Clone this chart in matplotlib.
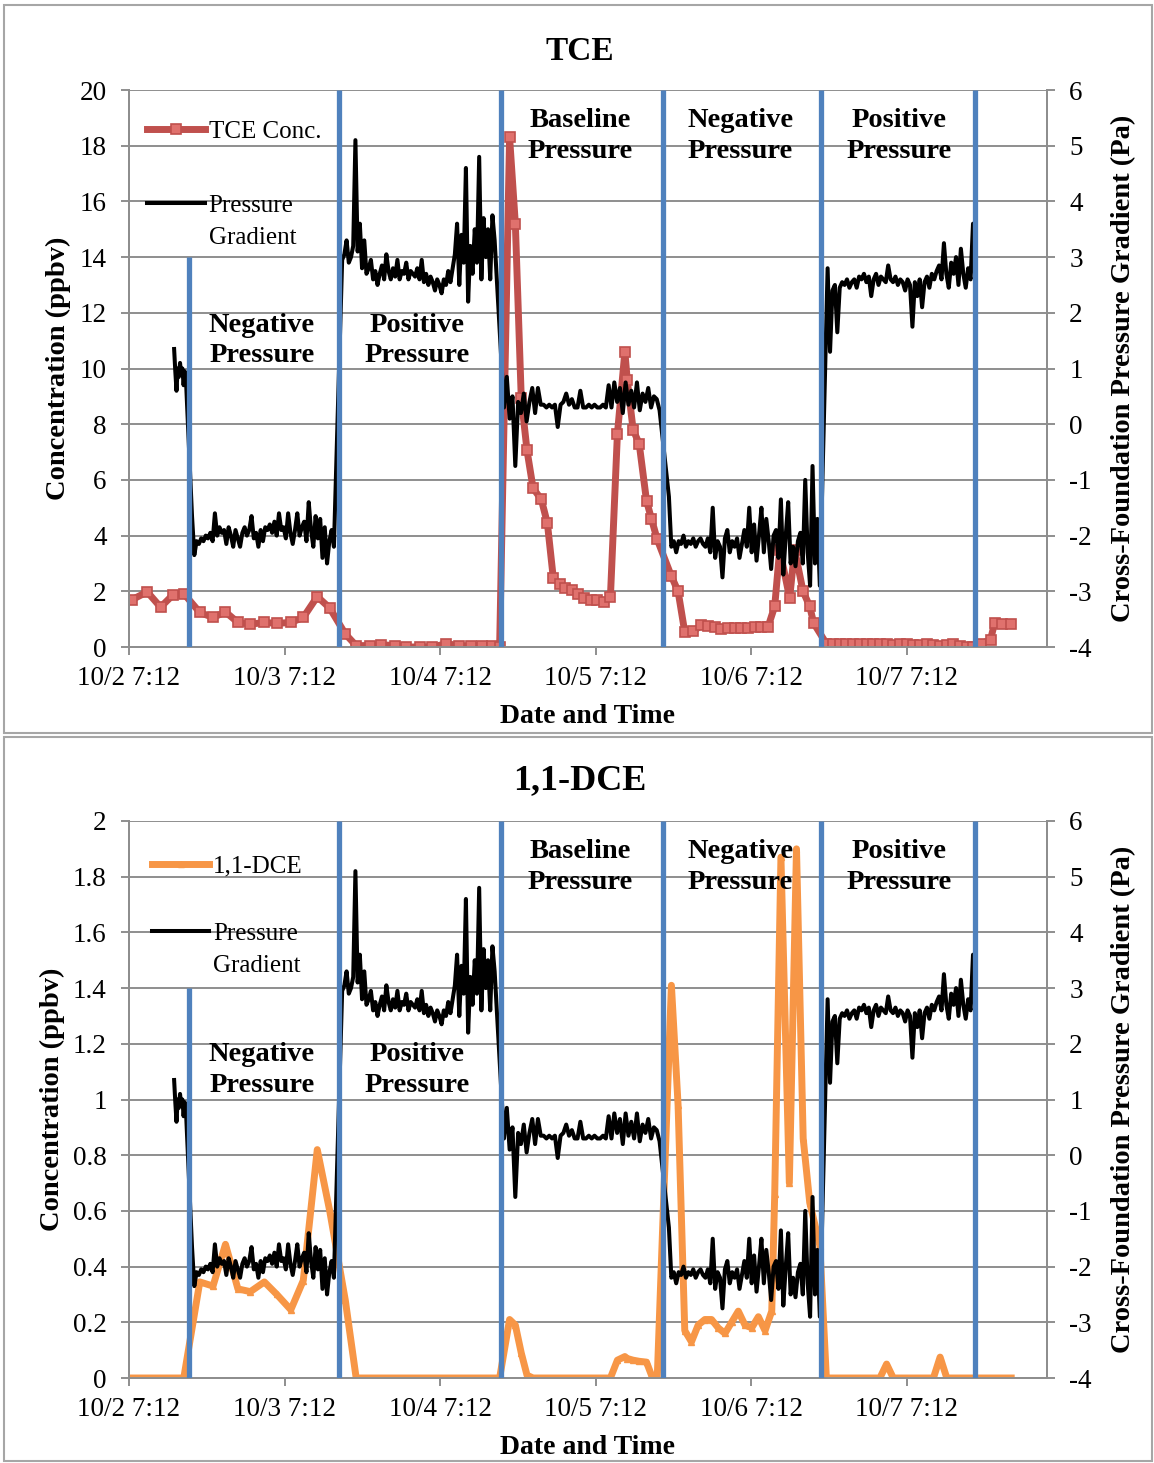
import numpy as np
import matplotlib
matplotlib.use("Agg")
import matplotlib.pyplot as plt
from matplotlib.patches import Rectangle

plt.rcParams["font.family"] = ["Liberation Serif", "DejaVu Serif"]
plt.rcParams["axes.unicode_minus"] = False

# x values are days after 10/2 7:12
tick_days = [0, 1, 2, 3, 4, 5]
tick_labels = ["10/2 7:12", "10/3 7:12", "10/4 7:12", "10/5 7:12", "10/6 7:12", "10/7 7:12"]

# boundaries between test periods
period_lines = [0.386, 1.35, 2.39, 3.43, 4.45, 5.44]

# TCE concentration (ppbv)
tce_days = [0.02, 0.117, 0.203, 0.284, 0.352, 0.455, 0.54, 0.62, 0.70, 0.78, 0.87, 0.95,
            1.04, 1.12, 1.21, 1.29, 1.39, 1.46, 1.55, 1.62, 1.71, 1.78, 1.87, 1.95,
            2.04, 2.12, 2.20, 2.27, 2.33, 2.382,
            2.446, 2.483, 2.521, 2.558, 2.597, 2.650, 2.689, 2.727, 2.768, 2.805, 2.848,
            2.886, 2.925, 2.968, 3.011, 3.054, 3.094, 3.139, 3.187, 3.202, 3.240, 3.279,
            3.326, 3.358, 3.395,
            3.486, 3.529, 3.572, 3.625, 3.679, 3.722, 3.764, 3.807, 3.850, 3.893, 3.936,
            3.979, 4.021, 4.064, 4.107, 4.150, 4.182, 4.246, 4.278, 4.332, 4.375, 4.400,
            4.482, 4.525, 4.568, 4.611, 4.654, 4.697, 4.740, 4.783, 4.826, 4.869, 4.912,
            4.955, 4.998, 5.041, 5.084, 5.127, 5.170, 5.213, 5.256, 5.299, 5.342, 5.385,
            5.424, 5.478, 5.537, 5.563, 5.612, 5.670]
tce_conc = [1.70, 1.98, 1.43, 1.88, 1.92, 1.24, 1.06, 1.26, 0.88, 0.82, 0.88, 0.85,
            0.88, 1.06, 1.81, 1.40, 0.47, 0.05, 0.05, 0.08, 0.05, 0.0, 0.0, 0.0,
            0.12, 0.05, 0.03, 0.05, 0.03, 0.0,
            18.3, 15.2, 8.95, 7.06, 5.7, 5.3, 4.44, 2.47, 2.28, 2.12, 2.04,
            1.91, 1.77, 1.70, 1.69, 1.63, 1.79, 7.65, 10.6, 9.6, 7.8, 7.3,
            5.25, 4.6, 3.86,
            2.54, 2.0, 0.53, 0.56, 0.78, 0.74, 0.72, 0.66, 0.68, 0.68, 0.68,
            0.68, 0.72, 0.72, 0.72, 1.46, 3.5, 1.76, 3.5, 2.0, 1.46, 0.86,
            0.12, 0.12, 0.1, 0.12, 0.1, 0.1, 0.12, 0.1, 0.1, 0.1, 0.08,
            0.1, 0.1, 0.08, 0.08, 0.1, 0.08, 0.05, 0.08, 0.1, 0.05, 0.0,
            0.0, 0.12, 0.26, 0.86, 0.83, 0.83]

# 1,1-DCE concentration (ppbv)
dce_days = [0.02, 0.117, 0.203, 0.284, 0.352, 0.455, 0.54, 0.62, 0.70, 0.78, 0.87, 0.95,
            1.04, 1.12, 1.21, 1.29, 1.39, 1.46, 1.55, 1.62, 1.71, 1.78, 1.87, 1.95,
            2.04, 2.12, 2.20, 2.27, 2.33, 2.382,
            2.446, 2.483, 2.521, 2.558, 2.597, 2.650, 2.689, 2.727, 2.768, 2.805, 2.848,
            2.886, 2.925, 2.968, 3.011, 3.054, 3.094, 3.139, 3.187, 3.202, 3.240, 3.279,
            3.326, 3.358, 3.395,
            3.486, 3.529, 3.572, 3.615, 3.658, 3.701, 3.744, 3.787, 3.830, 3.873, 3.916,
            3.959, 4.002, 4.045, 4.088, 4.131, 4.150, 4.190, 4.244, 4.290, 4.333, 4.375,
            4.440, 4.482, 4.525, 4.568, 4.611, 4.654, 4.697, 4.740, 4.783, 4.826, 4.869,
            4.912, 4.955, 4.998, 5.041, 5.084, 5.127, 5.170, 5.213, 5.256, 5.299, 5.342,
            5.385, 5.424, 5.478, 5.537, 5.563, 5.612, 5.670]
dce_conc = [0.0, 0.0, 0.0, 0.0, 0.0, 0.345, 0.33, 0.48, 0.32, 0.31, 0.345, 0.30,
            0.245, 0.35, 0.82, 0.60, 0.28, 0.0, 0.0, 0.0, 0.0, 0.0, 0.0, 0.0,
            0.0, 0.0, 0.0, 0.0, 0.0, 0.0,
            0.21, 0.19, 0.09, 0.01, 0.0, 0.0, 0.0, 0.0, 0.0, 0.0, 0.0,
            0.0, 0.0, 0.0, 0.0, 0.0, 0.0, 0.064, 0.077, 0.07, 0.064, 0.06,
            0.057, 0.01, 0.0,
            1.41, 0.98, 0.17, 0.13, 0.19, 0.21, 0.21, 0.18, 0.16, 0.20, 0.24,
            0.19, 0.18, 0.22, 0.17, 0.24, 0.66, 1.87, 0.70, 1.90, 0.86, 0.63,
            0.475, 0.0, 0.0, 0.0, 0.0, 0.0, 0.0, 0.0, 0.0, 0.0, 0.05,
            0.0, 0.0, 0.0, 0.0, 0.0, 0.0, 0.0, 0.075, 0.0, 0.0, 0.0,
            0.0, 0.0, 0.0, 0.0, 0.0, 0.0, 0.0]

# cross-foundation pressure gradient (Pa), logged in six stretches
p_spans = [(0.29, 0.366), (0.405, 1.317), (1.37, 2.35), (2.41, 3.41), (3.47, 4.44), (4.49, 5.44)]
p_seg1 = [1.35, 0.95, 0.6, 1.0, 0.85, 1.1, 0.9, 1.0, 0.7, 0.95, 0.8]
p_seg2 = [-1.65, -2.35, -2.1, -2.15, -2.05, -2.1, -2.0, -2.05, -1.95, -2.1, -1.6, -2.0,
          -1.85, -1.95, -1.9, -2.15, -1.85, -2.0, -2.2, -1.9, -2.05, -2.2, -1.95, -1.85,
          -2.0, -1.9, -1.65, -2.05, -1.95, -2.2, -1.9, -2.1, -1.85, -1.9, -1.8, -1.95,
          -1.75, -2.0, -1.6, -1.9, -1.85, -2.05, -1.6, -1.95, -2.15, -1.9, -1.6, -2.0,
          -1.85, -1.75, -2.1, -1.4, -1.9, -2.2, -1.65, -2.05, -1.7, -2.4, -1.85, -2.5,
          -2.1, -1.9, -2.2]
p_seg3 = [2.95, 3.05, 3.3, 2.9, 3.0, 3.2, 5.1, 3.1, 3.6, 2.8, 3.3, 2.7, 2.8, 2.95, 2.6,
          2.75, 2.5, 2.7, 2.85, 2.6, 3.05, 2.75, 2.6, 2.8, 2.65, 2.95, 2.6, 2.75, 2.7,
          2.9, 2.6, 2.75, 2.7, 2.65, 2.8, 2.6, 2.95, 2.55, 2.7, 2.5, 2.65, 2.55, 2.4,
          2.6, 2.5, 2.35, 2.6, 2.5, 2.75, 2.55, 2.8, 3.05, 3.6, 2.5, 3.4, 2.9, 4.6, 2.2,
          3.2, 2.7, 3.5, 2.9, 4.8, 2.6, 3.7, 3.0, 3.5, 2.6, 3.75, 3.3]
p_seg4 = [0.3, 0.85, 0.1, 0.5, -0.75, 0.4, 0.2, 0.55, 0.05, 0.4, 0.65, 0.2, 0.65, 0.35,
          0.35, 0.3, 0.35, 0.3, 0.35, -0.05, 0.35, 0.4, 0.55, 0.35, 0.45, 0.3, 0.3, 0.6,
          0.3, 0.3, 0.35, 0.3, 0.35, 0.3, 0.3, 0.35, 0.3, 0.7, 0.3, 0.75, 0.4, 0.65, 0.2,
          0.75, 0.35, 0.6, 0.3, 0.75, 0.25, 0.55, 0.4, 0.65, 0.3, 0.5, 0.45, 0.25]
p_seg5 = [-1.3, -2.2, -2.1, -2.3, -2.1, -2.15, -2.0, -2.2, -2.1, -2.15, -2.05, -2.2, -2.1,
          -2.05, -2.15, -2.2, -2.05, -2.3, -1.5, -2.4, -2.1, -2.2, -2.75, -2.05, -1.9,
          -2.3, -2.1, -2.2, -2.05, -2.4, -2.15, -1.9, -2.2, -1.5, -2.3, -1.8, -2.45, -2.0,
          -1.5, -2.3, -1.7, -2.1, -2.6, -2.0, -1.9, -2.4, -1.35, -2.7, -2.0, -1.4, -2.5,
          -2.2, -2.55, -2.1, -1.95, -2.5, -1.0, -2.3, -2.9, -0.75, -2.5, -1.7, -2.9]
p_seg6 = [2.8, 1.3, 2.4, 2.5, 1.65, 2.45, 2.55, 2.5, 2.6, 2.45, 2.55, 2.6, 2.45, 2.65,
          2.6, 2.7, 2.55, 2.65, 2.3, 2.6, 2.7, 2.5, 2.65, 2.6, 2.55, 2.85, 2.6, 2.55,
          2.65, 2.5, 2.6, 2.55, 2.4, 2.6, 2.5, 1.75, 2.55, 2.3, 2.6, 2.1, 2.55, 2.65,
          2.45, 2.7, 2.6, 2.75, 2.85, 2.6, 3.25, 2.7, 2.45, 2.9, 2.7, 3.0, 2.5, 3.15,
          2.7, 2.45, 2.8, 2.6, 3.6, 2.5]
p_segments = [p_seg1, p_seg2, p_seg3, p_seg4, p_seg5, p_seg6]

GRID = "#8e8e8e"
BLUE = "#4F81BD"
W, H = 1154, 1463


def pressure_series():
    t, v = [], []
    for (t0, t1), seg in zip(p_spans, p_segments):
        t.extend(np.linspace(t0, t1, len(seg)))
        v.extend(seg)
    return t, v


def style_axes(ax, ax2, ymax, ystep, ylabels):
    ax.set_xlim(0, 5.9)
    ax.set_ylim(0, ymax)
    ax.set_yticks(np.arange(0, ymax + ystep / 2, ystep))
    ax.set_yticklabels(ylabels)
    ax.set_xticks(tick_days)
    ax.set_xticklabels(tick_labels)
    ax.grid(axis="y", color=GRID, lw=1.4)
    ax.set_axisbelow(True)
    ax2.set_ylim(-4, 6)
    ax2.set_yticks(range(-4, 7))
    ax2.set_yticklabels([str(v) for v in range(-4, 7)])
    for a in (ax, ax2):
        for s in a.spines.values():
            s.set_color(GRID)
            s.set_linewidth(1.4)
        a.spines["top"].set_visible(False)
        a.tick_params(colors=GRID, labelcolor="black", labelsize=19.5, length=6, width=1.4)
    ax.tick_params(axis="y", pad=10)
    ax.tick_params(axis="x", pad=8)
    ax2.tick_params(axis="y", pad=10)
    ax.set_xlabel("Date and Time", fontsize=20, fontweight="bold", labelpad=9)
    ax.set_ylabel("Concentration (ppbv)", fontsize=20.5, fontweight="bold", labelpad=6)
    ax2.set_ylabel("Cross-Foundation Pressure Gradient (Pa)", fontsize=20.5,
                   fontweight="bold", labelpad=14)


def annotate_periods(ax, y_low, y_high):
    kw = dict(fontsize=20.5, fontweight="bold", ha="center", va="center", linespacing=1.3)
    ax.text(0.855, y_low, "Negative\nPressure", **kw)
    ax.text(1.85, y_low, "Positive\nPressure", **kw)
    ax.text(2.90, y_high, "Baseline\nPressure", **kw)
    ax.text(3.93, y_high, "Negative\nPressure", **kw)
    ax.text(4.95, y_high, "Positive\nPressure", **kw)


fig = plt.figure(figsize=(W / 100, H / 100), dpi=100)

for rect in [(4, 5, 1148, 728), (4, 737, 1148, 724)]:
    x, y, w, h = rect
    fig.add_artist(Rectangle((x / W, 1 - (y + h) / H), w / W, h / H, transform=fig.transFigure,
                             fill=False, ec="#a6a6a6", lw=1.5))

ax_left = 129 / W
ax_w = (1047 - 129) / W
ax_h = (647 - 90) / H

p_t, p_v = pressure_series()
legends = []

# --- TCE panel ---
ax1 = fig.add_axes([ax_left, 1 - 647 / H, ax_w, ax_h])
ax1b = ax1.twinx()
tce_line, = ax1.plot(tce_days, tce_conc, color="#C0504D", lw=5, marker="s", ms=7.5,
                     mfc="#E0716D", mec="#C0504D", mew=1.2, zorder=3, label="TCE Conc.")
p_line1, = ax1b.plot(p_t, p_v, color="black", lw=2.9, label="Pressure")
ax1b.vlines(period_lines, 0, [14, 20, 20, 20, 20, 20], color=BLUE, lw=3.8, zorder=5,
            transform=ax1.transData)
style_axes(ax1, ax1b, 20, 2, [str(v) for v in range(0, 21, 2)])
annotate_periods(ax1, 11.0, 18.35)
legends.append(ax1b.legend(handles=[tce_line, p_line1], loc="upper left",
                           bbox_to_anchor=(0.02, 0.946), borderpad=0, borderaxespad=0,
                           frameon=False, fontsize=18, handlelength=2.3,
                           handletextpad=0.15, labelspacing=2.06))
fig.text(580 / W, 1 - 51 / H, "TCE", fontsize=24, fontweight="bold", ha="center", va="center")

# --- 1,1-DCE panel ---
ax2 = fig.add_axes([ax_left, 1 - 1378 / H, ax_w, ax_h])
ax2b = ax2.twinx()
dce_line, = ax2.plot(dce_days, dce_conc, color="#F79646", lw=5, marker="^", ms=5,
                     mfc="#F79646", mec="#F79646", zorder=3, label="1,1-DCE")
p_line2, = ax2b.plot(p_t, p_v, color="black", lw=2.9, label="Pressure")
ax2b.vlines(period_lines, 0, [1.4, 2, 2, 2, 2, 2], color=BLUE, lw=3.8, zorder=5,
            transform=ax2.transData)
dce_labels = ["0", "0.2", "0.4", "0.6", "0.8", "1", "1.2", "1.4", "1.6", "1.8", "2"]
style_axes(ax2, ax2b, 2, 0.2, dce_labels)
annotate_periods(ax2, 1.106, 1.835)
legends.append(ax2b.legend(handles=[dce_line, p_line2], loc="upper left",
                           bbox_to_anchor=(0.025, 0.939), borderpad=0, borderaxespad=0,
                           frameon=False, fontsize=18, handlelength=2.3,
                           handletextpad=0.15, labelspacing=1.79))
fig.text(580 / W, 1 - 781 / H, "1,1-DCE", fontsize=26, fontweight="bold", ha="center",
         va="center")

# second line of the "Pressure Gradient" legend label, left aligned under the first
fig.canvas.draw()
for leg in legends:
    bb = leg.get_texts()[1].get_window_extent()
    fig.text(bb.x0 / W, (bb.y0 - 32) / H, "Gradient", fontsize=18, ha="left", va="bottom")

fig.savefig("out.png", dpi=100)
